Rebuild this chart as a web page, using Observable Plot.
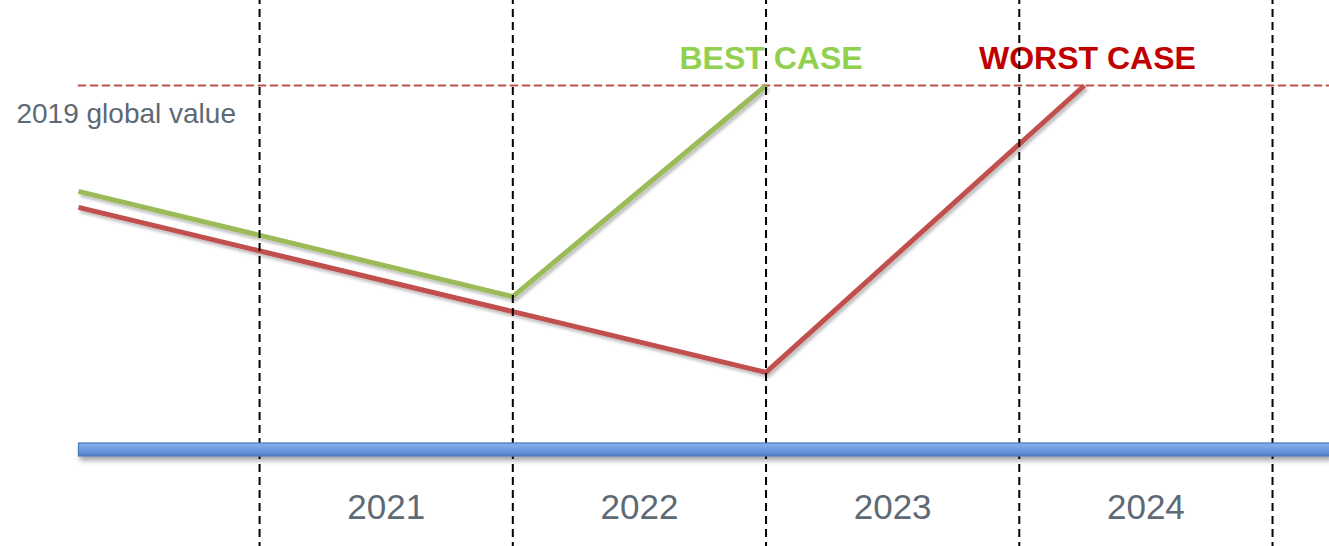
<!DOCTYPE html>
<html>
<head>
<meta charset="utf-8">
<script src="https://cdn.jsdelivr.net/npm/d3@7"></script>
<script src="https://cdn.jsdelivr.net/npm/@observablehq/plot@0.6"></script>
<style>
  html, body { margin: 0; padding: 0; background: #fff; }
  #chart svg { display: block; }
</style>
</head>
<body>
<div id="chart"></div>
<script>
// ---- data ----
const yearBoundaries = [2021, 2022, 2023, 2024, 2025];
const yearLabels = ["2021", "2022", "2023", "2024"];
const chartStart = 2020.285;          // where the lines, reference line and axis bar begin
const chartEnd = 2025.225;            // right edge of the view
const referenceValue = 100;           // 2019 global value (index)
const referenceLabel = "2019 global value";
const bestX = [2020.285, 2022, 2023];
const bestY = [70.9, 42.0, 100];
const worstX = [2020.285, 2023, 2024.257];
const worstY = [66.5, 21.2, 100];
const caseLabels = ["BEST CASE", "WORST CASE"];

const best = bestX.map((x, i) => ({x, y: bestY[i]}));
const worst = worstX.map((x, i) => ({x, y: worstY[i]}));
const refLine = [{x: chartStart, y: referenceValue}, {x: chartEnd, y: referenceValue}];
const axisBar = [{x1: chartStart, x2: chartEnd, y: 0}];
const peaks = [
  {x: best[best.length - 1].x, y: best[best.length - 1].y, label: caseLabels[0], color: "#92d050", dx: 5},
  {x: worst[worst.length - 1].x, y: worst[worst.length - 1].y, label: caseLabels[1], color: "#c00000", dx: 3}
];

const font = "'Liberation Sans', Arial, Helvetica, sans-serif";

const chart = Plot.plot({
  width: 1329,
  height: 546,
  marginTop: 0, marginRight: 0, marginBottom: 0, marginLeft: 0,
  style: {fontFamily: font, background: "white"},
  x: {domain: [2019.977, chartEnd], axis: null},
  y: {domain: [0, 100], range: [449, 85], axis: null},
  marks: [
    Plot.line(refLine, {x: "x", y: "y", stroke: "#c0504d", strokeWidth: 1.8, strokeDasharray: "7,5"}),
    Plot.line(worst, {x: "x", y: "y", stroke: "#c0504d", strokeWidth: 5, strokeLinejoin: "miter", strokeLinecap: "butt"}),
    Plot.line(best, {x: "x", y: "y", stroke: "#9bbb59", strokeWidth: 5, strokeLinejoin: "miter", strokeLinecap: "butt"}),
    Plot.text([referenceLabel], {x: 2020.04, y: referenceValue, text: d => d, textAnchor: "start", lineAnchor: "bottom", dy: 37, fontSize: 28, fill: "#5d6974"}),
    Plot.text(peaks.slice(0, 1), {x: "x", y: "y", text: "label", fill: "color", fontSize: 32, fontWeight: "bold", lineAnchor: "bottom", dy: -17, dx: 5, textAnchor: "middle"}),
    Plot.text(peaks.slice(1), {x: "x", y: "y", text: "label", fill: "color", fontSize: 32, fontWeight: "bold", lineAnchor: "bottom", dy: -17, dx: 3, textAnchor: "middle"}),
    Plot.text(yearLabels, {x: d => +d + 0.5, frameAnchor: "bottom", text: d => d, lineAnchor: "bottom", dy: -28, fontSize: 35, fill: "#5d6974"}),
    Plot.ruleX(yearBoundaries, {stroke: "#000", strokeWidth: 2, strokeDasharray: "8,5", strokeDashoffset: 4}),
    Plot.ruleY(axisBar, {x1: "x1", x2: "x2", y: "y", stroke: "url(#barGrad)", strokeWidth: 13})
  ]
});

// gradients & shadows
const svg = d3.select(chart);
const defs = svg.insert("defs", ":first-child");
const g = defs.append("linearGradient").attr("id", "barGrad")
  .attr("gradientUnits", "userSpaceOnUse").attr("x1", 0).attr("x2", 0).attr("y1", 442).attr("y2", 456);
g.append("stop").attr("offset", "0%").attr("stop-color", "#8db3f0");
g.append("stop").attr("offset", "50%").attr("stop-color", "#6f9be0");
g.append("stop").attr("offset", "100%").attr("stop-color", "#4f7fcb");
const f = defs.append("filter").attr("id", "shadow").attr("filterUnits", "userSpaceOnUse")
  .attr("x", 0).attr("y", 400).attr("width", 1329).attr("height", 100);
f.append("feDropShadow").attr("dx", 2).attr("dy", 4).attr("stdDeviation", 2.5).attr("flood-color", "#000").attr("flood-opacity", 0.35);
const f2 = defs.append("filter").attr("id", "shadow2").attr("x", "-20%").attr("y", "-20%").attr("width", "140%").attr("height", "140%");
f2.append("feDropShadow").attr("dx", 2).attr("dy", 3).attr("stdDeviation", 1.5).attr("flood-color", "#000").attr("flood-opacity", 0.25);

svg.selectAll("g[aria-label='line'] path").each(function(d, i) {
  if (i > 0) d3.select(this).attr("filter", "url(#shadow2)");
});
const barG = svg.selectAll("g[aria-label='rule']").filter((d, i, n) => i === n.length - 1);
barG.attr("filter", "url(#shadow)");
barG.each(function() {
  const l = d3.select(this).select("line");
  const x1 = +l.attr("x1"), x2 = +l.attr("x2");
  d3.select(this).append("rect").attr("x", x1 + 0.5).attr("y", 442.5).attr("width", x2 - x1 + 2).attr("height", 13)
    .attr("fill", "none").attr("stroke", "#4a78b8").attr("stroke-width", 1.2);
});

document.getElementById("chart").appendChild(chart);
</script>
</body>
</html>
